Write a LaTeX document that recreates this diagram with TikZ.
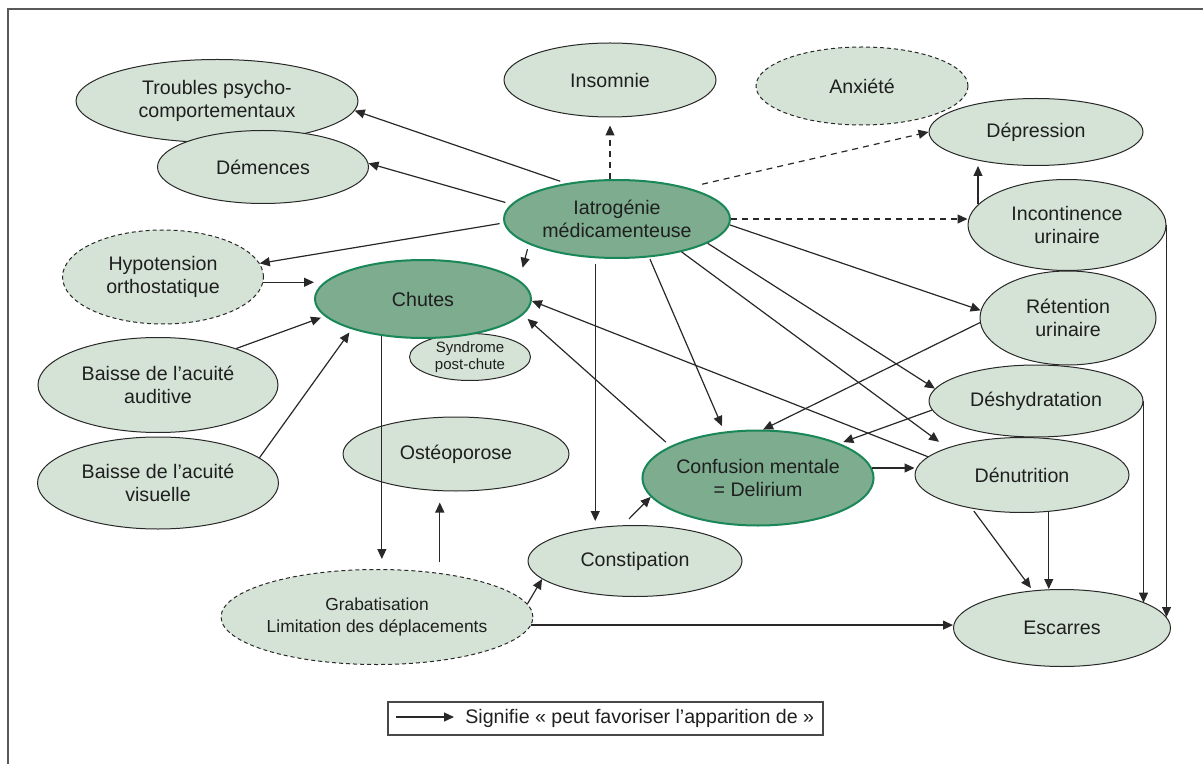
\documentclass[tikz,border=0pt]{standalone}
\usepackage{fontspec}
\setmainfont{Liberation Sans}
\usetikzlibrary{shapes.geometric,arrows.meta}

\definecolor{vertclair}{RGB}{212,227,214}
\definecolor{vertfonce}{RGB}{125,172,143}
\definecolor{vertbord}{RGB}{25,135,88}
\definecolor{trait}{RGB}{40,40,40}

\begin{document}
\begin{tikzpicture}[%
    x=0.5pt, y=-0.5pt,
    >={Triangle[length=5pt,width=4.5pt]},
    sz/.style 2 args={minimum width=#1*0.5pt, minimum height=#2*0.5pt},
    etat/.style={ellipse, draw=trait, line width=0.5pt, fill=vertclair, inner sep=0pt,
        align=center, text=black!88, font=\fontsize{9.8}{11.5}\selectfont},
    incertain/.style={etat, dash pattern=on 2pt off 1.5pt},
    cle/.style={etat, draw=vertbord, line width=1pt, fill=vertfonce},
    lien/.style={->, color=trait, line width=0.6pt},
    possible/.style={dash pattern=on 3pt off 2.5pt}
    ]

    \useasboundingbox (0,0) rectangle (1203,764);
    \draw[black!65, line width=0.8pt] (8,764) -- (8,9) -- (1203,9);

    \node[etat, sz={282}{83}] (troubles) at (217,101) {Troubles psycho-\\comportementaux};
    \node[etat, sz={211}{73}] (demences) at (263,167) {Démences};
    \node[etat, sz={212}{74}] (insomnie) at (610,80) {Insomnie};
    \node[incertain, sz={212}{78}] (anxiete) at (862,86) {Anxiété};
    \node[etat, sz={214}{67}] (depression) at (1036,132) {Dépression};
    \node[cle, sz={226}{78}] (iatro) at (617,219) {Iatrogénie\\médicamenteuse};
    \node[incertain, sz={201}{94}] (hypotension) at (163,277) {Hypotension\\orthostatique};
    \node[etat, sz={121}{47}, font=\fontsize{7.5}{8.5}\selectfont] (syndrome) at (470,357) {Syndrome\\post-chute};
    \node[cle, sz={216}{78}] (chutes) at (423,299) {Chutes};
    \node[etat, sz={198}{91}] (incontinence) at (1067,225) {Incontinence\\urinaire};
    \node[etat, sz={176}{94}] (retention) at (1068,318) {Rétention\\urinaire};
    \node[etat, sz={240}{95}] (auditive) at (158,385) {Baisse de l’acuité\\auditive};
    \node[etat, sz={241}{92}] (visuelle) at (158,483) {Baisse de l’acuité\\visuelle};
    \node[etat, sz={226}{74}] (osteo) at (456,454) {Ostéoporose};
    \node[etat, sz={214}{72}] (deshy) at (1036,401) {Déshydratation};
    \node[etat, sz={214}{75}] (denutrition) at (1022,475) {Dénutrition};
    \node[cle, sz={216}{95}] (confusion) at (758,478) {Confusion mentale\\= Delirium};
    \node[etat, sz={214}{71}] (constipation) at (635,561) {Constipation};
    \node[incertain, sz={281}{95}, font=\fontsize{8.7}{10.8}\selectfont] (grabat) at (377,617) {Grabatisation\\Limitation des déplacements};
    \node[etat, sz={217}{77}] (escarres) at (1062,628) {Escarres};

    \path[lien] (iatro.145) edge[shorten <=3pt] (troubles.-4)
        (iatro.172) edge[shorten <=3pt] (demences.2)
        (iatro.182) edge[shorten <=2pt] (hypotension.8)
        (iatro.196) edge[shorten <=2.5pt, shorten >=6.5pt] (chutes.11)
        (hypotension.-3) edge (hypotension.-3 -| chutes.west)
        (auditive.25) edge[shorten >=2pt] (chutes.190)
        (visuelle.14) edge[shorten >=2pt] (chutes.203)
        (chutes.222) edge[shorten >=5pt] (chutes.222 |- grabat.north)
        (grabat.35) edge[shorten <=5.5pt, shorten >=5.5pt] (grabat.35 |- osteo.south)
        (grabat.5) edge (constipation.191)
        (grabat.-3) edge (grabat.-3 -| escarres.west)
        (constipation.109) edge[shorten <=4.5pt] (confusion.190)
        (confusion.5) edge (confusion.5 -| denutrition.west)
        (denutrition.214) edge[shorten <=1.5pt, shorten >=1.5pt] (escarres.128)
        (denutrition.-54) edge (denutrition.-54 |- escarres.north)
        (deshy.east) edge (deshy.east |- escarres.17)
        (incontinence.east) edge (incontinence.east |- escarres.6)
        (incontinence.167) edge (incontinence.167 |- depression.south);

    \path[lien] (iatro.-3) edge (retention.175)
        (iatro.-15) edge (deshy.173)
        (iatro.-27) edge[shorten >=5pt] (denutrition.160)
        (iatro.-50) edge[shorten <=1pt, shorten >=3pt] (confusion.126)
        (iatro.241) edge[shorten <=3pt, shorten >=2pt] (iatro.241 |- constipation.north)
        (retention.183) edge (confusion.84)
        (deshy.185) edge[shorten >=2pt] (confusion.23)
        (denutrition.169) edge (chutes.-1)
        (confusion.160) edge[shorten <=3pt, shorten >=3pt] (chutes.-9);

    \path[lien, possible] (insomnie.south |- iatro.north) edge[shorten >=4pt] (insomnie.south)
        (iatro.24) edge[shorten <=7.5pt] (depression.west)
        (iatro.east) edge (iatro.east -| incontinence.west);

    % legende
    \node[draw=trait!85, line width=0.6pt, inner sep=0pt, sz={435}{33}] (legende) at (605.5,718.5) {};
    \node[anchor=west, inner sep=0pt, text=black!88, font=\fontsize{9.8}{11.5}\selectfont] (legtexte) at (465,718) {Signifie « peut favoriser l’apparition de »};
    \coordinate (legdebut) at (396,717);
    \path[lien] (legdebut) edge[shorten >=5.5pt] (legdebut -| legtexte.west);

\end{tikzpicture}
\end{document}
